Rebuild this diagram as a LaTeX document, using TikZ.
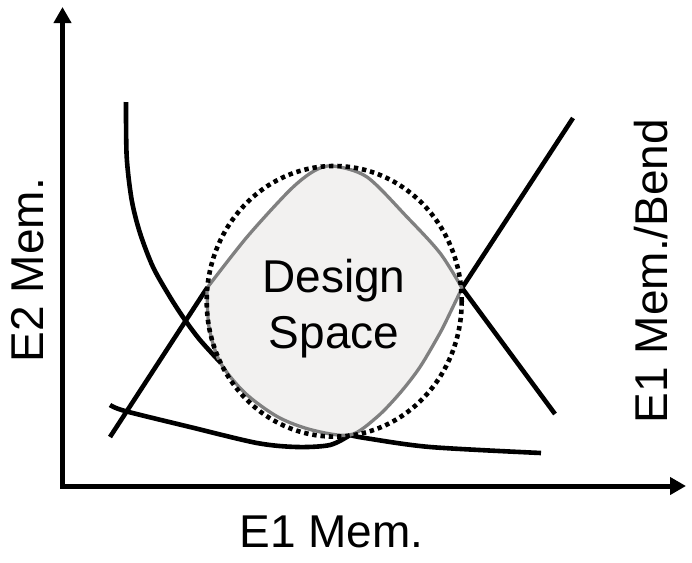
\documentclass[tikz,border=0pt]{standalone}
\usepackage{fontspec}
\setmainfont{Liberation Sans}
\usetikzlibrary{arrows.meta}
\definecolor{dsfill}{RGB}{242,241,240}
\definecolor{dsedge}{RGB}{128,128,128}
\begin{document}
\begin{tikzpicture}[x=1pt,y=-1pt,
  curve/.style={line width=4.6pt},
  axisline/.style={line width=5pt, line join=miter,
    {Triangle[length=16pt,width=17pt]}-{Triangle[length=16pt,width=17pt]}},
  dsline/.style={draw=dsedge, line width=3.3pt, line join=round},
  ring/.style={line width=4.6pt, dash pattern=on 4.4pt off 3.9pt},
  lab/.style={font=\fontsize{46}{56}\selectfont, inner sep=0pt, anchor=base}]
\useasboundingbox (0,0) rectangle (692,562);
% key points
\coordinate (L) at (207,288);
\coordinate (R) at (462,288);
\coordinate (B) at (350,435);
\coordinate (Ajoin) at (220,362);
\coordinate (O) at (62.5,486);
\coordinate (Ytip) at (62.5,7);
\coordinate (Xtip) at (686,486);
% design space fill
\path[fill=dsfill]
  plot[smooth] coordinates {(L) (247,237) (290,190) (314,171) (333,166) (367,177) (407,217) (440,253) (R)}
  -- plot[smooth] coordinates {(R) (450,313) (440,333) (420,367) (400,393) (377,417) (B) (312,430) (278,417) (245,393) (Ajoin) (209,327) (L)}
  -- cycle;
% black curves
\draw[curve] plot[smooth] coordinates {(126,102) (126.7,157) (131.7,200) (140,233) (153,267) (170,297) (185,320) (200,340) (Ajoin)};
\draw[curve] plot[smooth] coordinates {(B) (365,438) (430,447) (541,453)};
\draw[curve] (110,437) -- (L);
\draw[curve] (R) -- (555,414);
\draw[curve] plot[smooth] coordinates {(110,405) (125,411) (190,427) (257,443) (297,447) (330,445) (B)};
\draw[curve] (R) -- (573,118);
% design space outline
\draw[dsline]
  plot[smooth] coordinates {(L) (247,237) (290,190) (314,171) (333,166) (367,177) (407,217) (440,253) (R)}
  -- plot[smooth] coordinates {(R) (450,313) (440,333) (420,367) (400,393) (377,417) (B) (312,430) (278,417) (245,393) (Ajoin) (209,327) (L)}
  -- cycle;
% dotted ellipse
\draw[ring] (334.2,301.3) ellipse [x radius=127.5, y radius=135.3];
% axes
\draw[axisline] (Ytip) -- (O) -- (Xtip);
% texts
\node[lab] (ds1) at (334,292) {Design};
\node[lab] (ds2) at (334,348) {Space};
\node[lab] (xlab) at (331.5,547) {E1 Mem.};
\node[lab, rotate=90] (ylab) at (43,270) {E2 Mem.};
\node[lab, rotate=90] (rlab) at (667,271) {E1 Mem./Bend};
\end{tikzpicture}
\end{document}
